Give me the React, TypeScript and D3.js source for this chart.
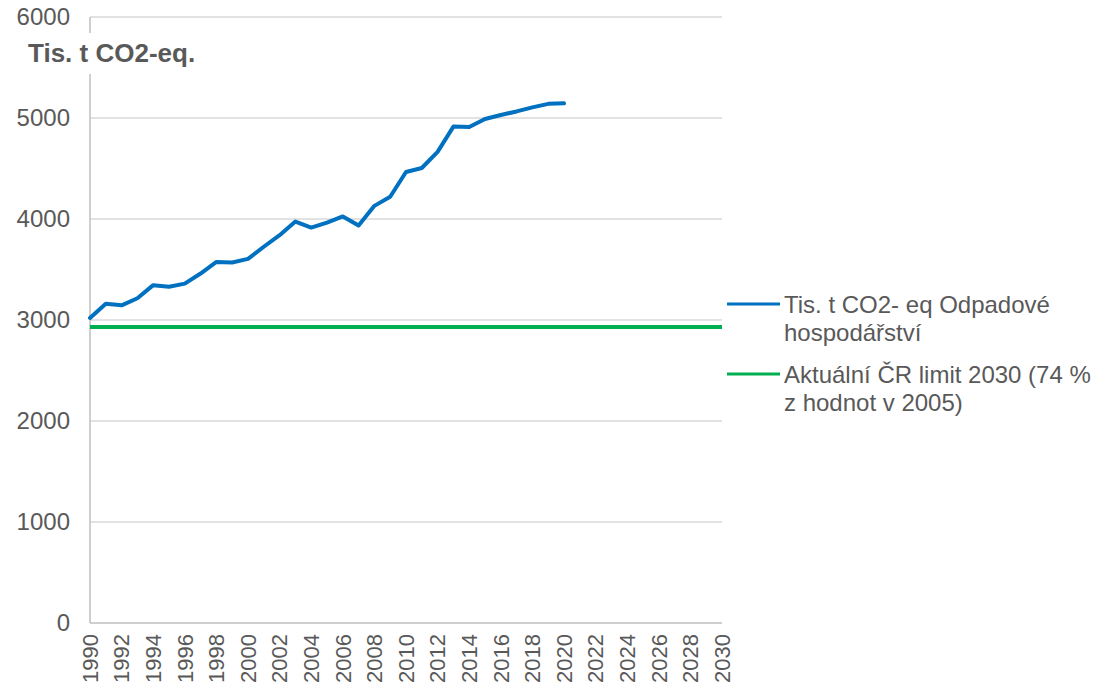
import React from "react";
import * as d3 from "d3";

// values
const years = [
  1990, 1991, 1992, 1993, 1994, 1995, 1996, 1997, 1998, 1999, 2000, 2001, 2002,
  2003, 2004, 2005, 2006, 2007, 2008, 2009, 2010, 2011, 2012, 2013, 2014, 2015,
  2016, 2017, 2018, 2019, 2020,
];
const emissions = [
  3020, 3160, 3145, 3215, 3345, 3330, 3360, 3460, 3575, 3570, 3605, 3725, 3840,
  3975, 3915, 3965, 4025, 3935, 4130, 4220, 4465, 4505, 4665, 4915, 4910, 4990,
  5030, 5065, 5105, 5140, 5145,
];
const limitYears = [1990, 2030];
const limitValue = 2930;
const yTicks = [0, 1000, 2000, 3000, 4000, 5000, 6000];
const xTicks = d3.range(1990, 2031, 2);
const legendItems = [
  { color: "#0070c0", lines: ["Tis. t CO2- eq Odpadové", "hospodářství"] },
  { color: "#00b050", lines: ["Aktuální ČR limit 2030 (74 %", "z hodnot v 2005)"] },
];

const W = 1095;
const H = 690;
const left = 90;
const right = 722;
const top = 17;
const bottom = 623;

const App = () => {
  const x = d3.scaleLinear().domain([1990, 2030]).range([left, right]);
  const y = d3.scaleLinear().domain([0, 6000]).range([bottom, top]);

  const line = d3
    .line<number>()
    .x((_, i) => x(years[i]))
    .y((d) => y(d));

  const limitLine = d3
    .line<number>()
    .x((d) => x(d))
    .y(() => y(limitValue));

  const font = "Liberation Sans, Arial, sans-serif";
  const txt = "#595959";

  return (
    <svg
      width={W}
      height={H}
      style={{ position: "absolute", left: 0, top: 0, fontFamily: font }}
    >
      <rect width={W} height={H} fill="#fff" />
      {/* gridlines */}
      {yTicks.slice(1).map((t) => (
        <line
          key={t}
          x1={left}
          x2={right}
          y1={y(t)}
          y2={y(t)}
          stroke="#d9d9d9"
          strokeWidth={1.5}
        />
      ))}
      {/* axes */}
      <line x1={left} x2={left} y1={top} y2={bottom} stroke="#bfbfbf" strokeWidth={1.5} />
      <line x1={left} x2={right} y1={bottom} y2={bottom} stroke="#bfbfbf" strokeWidth={1.5} />

      {/* y labels */}
      {yTicks.map((t) => (
        <text
          key={t}
          x={70}
          y={y(t)}
          dy="0.35em"
          textAnchor="end"
          fontSize={24}
          fill={txt}
        >
          {t}
        </text>
      ))}

      {/* x labels */}
      {xTicks.map((t) => (
        <text
          key={t}
          transform={`translate(${x(t)},${634}) rotate(-90)`}
          dy="0.35em"
          textAnchor="end"
          fontSize={22}
          fill={txt}
        >
          {t}
        </text>
      ))}

      {/* series */}
      <path
        d={limitLine(limitYears) || ""}
        fill="none"
        stroke="#00b050"
        strokeWidth={4}
      />
      <path
        d={line(emissions) || ""}
        fill="none"
        stroke="#0070c0"
        strokeWidth={4}
        strokeLinejoin="round"
        strokeLinecap="round"
      />

      {/* unit title */}
      <rect x={26} y={33} width={178} height={41} fill="#fff" />
      <text x={28} y={62} fontSize={26} fontWeight="bold" fill={txt}>
        Tis. t CO2-eq.
      </text>

      {/* legend */}
      {legendItems.map((item, i) => {
        const ly = 304 + i * 70;
        return (
          <g key={i}>
            <line x1={727} x2={780} y1={ly} y2={ly} stroke={item.color} strokeWidth={3} />
            {item.lines.map((l, j) => (
              <text key={j} x={784} y={ly + 9 + j * 28} fontSize={24} fill={txt}>
                {l}
              </text>
            ))}
          </g>
        );
      })}
    </svg>
  );
};

export default App;
